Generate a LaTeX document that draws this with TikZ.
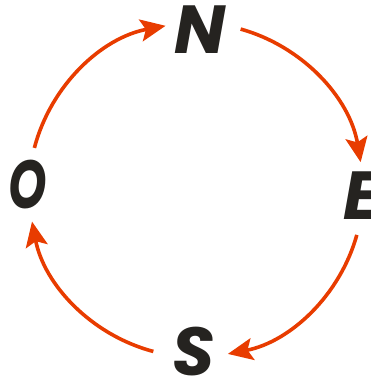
\documentclass[tikz,border=0pt]{standalone}
\usepackage{fontspec}
\setmainfont{Poppins}
\usetikzlibrary{arrows.meta,calc}
\definecolor{arc}{RGB}{232,60,0}
\definecolor{ink}{RGB}{37,35,32}
\begin{document}
\begin{tikzpicture}[x=1pt,y=1pt,
  letter/.style={inner sep=0pt, text=ink, font=\fontsize{68}{68}\selectfont\bfseries\itshape},
  arcline/.style={draw=arc, line width=3.6pt, -{Stealth[length=25pt,width=22pt,inset=5pt]}}]
\useasboundingbox (0,0) rectangle (371,-383);
\coordinate (c) at (196,-190);
\node[letter] (N) at (200,-30) {N};
\node[letter, anchor=west] (E) at (343,-196) {E};
\node[letter] (S) at (194,-352) {S};
\node[letter, xscale=0.72] (O) at (28,-185) {O};
\def\R{167}
\draw[arcline] ($(c)+(165.4:\R)$) arc[start angle=165.4, end angle=100.5, radius=\R];
\draw[arcline] ($(c)+(74.5:\R)$) arc[start angle=74.5, end angle=9.6, radius=\R];
\draw[arcline] ($(c)+(-15.6:\R)$) arc[start angle=-15.6, end angle=-79, radius=\R];
\draw[arcline] ($(c)+(255.2:\R)$) arc[start angle=255.2, end angle=190.9, radius=\R];
\end{tikzpicture}
\end{document}
